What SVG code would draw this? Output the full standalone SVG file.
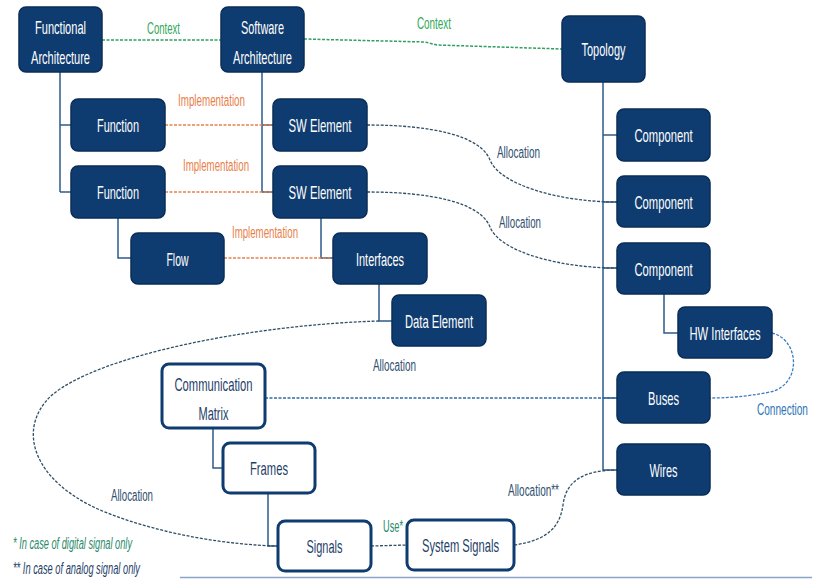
<svg xmlns="http://www.w3.org/2000/svg" width="816" height="579" viewBox="0 0 816 579">
  <style>
    .node rect { fill: #0f3c70; stroke: #0a2d57; stroke-width: 1.5; }
    .node text { fill: #ffffff; font-family: "Liberation Sans", Arial, sans-serif; font-size: 19px; text-anchor: middle; }
    .wnode rect { fill: #ffffff; stroke: #0f3c70; stroke-width: 3; }
    .wnode text { fill: #1f3f6a; font-family: "Liberation Sans", Arial, sans-serif; font-size: 19px; text-anchor: middle; }
    .tree { fill: none; stroke: #2f5b8c; stroke-width: 1.5; }
    .ctx { fill: none; stroke: #2fa060; stroke-width: 1.5; stroke-dasharray: 3 1.5; }
    .impl { fill: none; stroke: #e8804a; stroke-width: 1.5; stroke-dasharray: 3 1.5; }
    .alloc { fill: none; stroke: #2f4f66; stroke-width: 1.3; stroke-dasharray: 3 1.5; }
    .bus { fill: none; stroke: #2e6aa8; stroke-width: 1.5; stroke-dasharray: 3 1.5; }
    .conn { fill: none; stroke: #3a7bbf; stroke-width: 1.3; stroke-dasharray: 3 1.5; }
    .lbl { font-family: "Liberation Sans", Arial, sans-serif; font-size: 16px; }
    .green { fill: #2fa85a; }
    .orange { fill: #e8804a; }
    .slate { fill: #2f4f70; }
    .blue { fill: #2e75b6; }
    .note { font-family: "Liberation Sans", Arial, sans-serif; font-size: 16px; font-style: italic; }
  </style>

  <!-- connectors -->
  <g id="connectors">
    <!-- hierarchy lines -->
    <path class="tree" d="M60,72 V192 M60,125 H71 M60,192 H71"/>
    <path class="tree" d="M262,72 V192 M262,125 H273 M262,192 H273"/>
    <path class="tree" d="M118,218 V258 H131"/>
    <path class="tree" d="M321,218 V258 H333"/>
    <path class="tree" d="M379,284 V321 H392"/>
    <path class="tree" d="M603,82 V470 M603,135 H617 M603,202 H617 M603,268 H617 M603,398 H617 M603,470 H617"/>
    <path class="tree" d="M664,294 V333 H678"/>
    <path class="tree" d="M213,428 V468 H223"/>
    <path class="tree" d="M268,493 V546 H278"/>

    <!-- context -->
    <path class="ctx" d="M102,40 H221"/>
    <path class="ctx" d="M304,39 L425,42 L437,45 L562,49"/>

    <!-- implementation -->
    <path class="impl" d="M165,125 H273"/>
    <path class="impl" d="M165,192 H273"/>
    <path class="impl" d="M224,258 H333"/>

    <!-- allocation -->
    <path class="alloc" d="M367,125 C430,125 480,135 490,160 C500,185 560,202 617,202"/>
    <path class="alloc" d="M367,192 C430,192 480,202 490,227 C500,252 560,268 617,268"/>
    <path class="alloc" d="M379,321 C250,325 100,355 52,395 C16,428 32,480 100,510 C160,535 230,545 278,546"/>
    <path class="alloc" d="M371,546 L407,545"/>
    <path class="alloc" d="M514,545 C550,540 560,525 563,505 C566,480 585,470 617,470"/>

    <!-- bus / connection -->
    <path class="bus" d="M265,398 H617"/>
    <path class="conn" d="M772,333 C800,340 802,385 770,392 C745,397 725,398 710,398"/>
  </g>

  <!-- connector labels -->
  <g id="labels">
    <text class="lbl green" x="147" y="34" textLength="33" lengthAdjust="spacingAndGlyphs">Context</text>
    <text class="lbl green" x="417" y="29" textLength="34" lengthAdjust="spacingAndGlyphs">Context</text>
    <text class="lbl orange" x="178" y="106" textLength="67" lengthAdjust="spacingAndGlyphs">Implementation</text>
    <text class="lbl orange" x="183" y="171" textLength="66" lengthAdjust="spacingAndGlyphs">Implementation</text>
    <text class="lbl orange" x="232" y="238" textLength="66" lengthAdjust="spacingAndGlyphs">Implementation</text>
    <text class="lbl slate" x="497" y="158" textLength="43" lengthAdjust="spacingAndGlyphs">Allocation</text>
    <text class="lbl slate" x="499" y="228" textLength="42" lengthAdjust="spacingAndGlyphs">Allocation</text>
    <text class="lbl slate" x="373" y="371" textLength="43" lengthAdjust="spacingAndGlyphs">Allocation</text>
    <text class="lbl slate" x="111" y="501" textLength="42" lengthAdjust="spacingAndGlyphs">Allocation</text>
    <text class="lbl slate" x="508" y="496" textLength="51" lengthAdjust="spacingAndGlyphs">Allocation**</text>
    <text class="lbl" fill="#2a8a6a" x="383" y="532" textLength="20" lengthAdjust="spacingAndGlyphs">Use*</text>
    <g transform="translate(757,415) scale(0.63,1)">
      <text class="lbl blue" x="0" y="0">Connection</text>
    </g>
  </g>

  <!-- functional side -->
  <g id="functional-architecture" class="node">
    <rect x="19" y="7" width="83" height="65" rx="7"/>
    <text x="60.5" y="34" textLength="51" lengthAdjust="spacingAndGlyphs">Functional</text>
    <text x="60.5" y="64" textLength="59" lengthAdjust="spacingAndGlyphs">Architecture</text>
  </g>
  <g id="function-1" class="node">
    <rect x="71" y="99" width="94" height="52" rx="7"/>
    <text x="118" y="132" textLength="42" lengthAdjust="spacingAndGlyphs">Function</text>
  </g>
  <g id="function-2" class="node">
    <rect x="71" y="166" width="94" height="52" rx="7"/>
    <text x="118" y="199" textLength="42" lengthAdjust="spacingAndGlyphs">Function</text>
  </g>
  <g id="flow" class="node">
    <rect x="131" y="233" width="93" height="51" rx="7"/>
    <text x="177.5" y="266" textLength="22" lengthAdjust="spacingAndGlyphs">Flow</text>
  </g>

  <!-- software side -->
  <g id="software-architecture" class="node">
    <rect x="221" y="7" width="83" height="65" rx="7"/>
    <text x="262.5" y="34" textLength="43" lengthAdjust="spacingAndGlyphs">Software</text>
    <text x="262.5" y="64" textLength="59" lengthAdjust="spacingAndGlyphs">Architecture</text>
  </g>
  <g id="sw-element-1" class="node">
    <rect x="273" y="99" width="94" height="52" rx="7"/>
    <text x="320" y="132" textLength="63" lengthAdjust="spacingAndGlyphs">SW Element</text>
  </g>
  <g id="sw-element-2" class="node">
    <rect x="273" y="166" width="94" height="52" rx="7"/>
    <text x="320" y="199" textLength="63" lengthAdjust="spacingAndGlyphs">SW Element</text>
  </g>
  <g id="interfaces" class="node">
    <rect x="333" y="233" width="94" height="51" rx="7"/>
    <text x="380" y="266" textLength="48" lengthAdjust="spacingAndGlyphs">Interfaces</text>
  </g>
  <g id="data-element" class="node">
    <rect x="392" y="295" width="94" height="51" rx="7"/>
    <text x="439" y="328" textLength="68" lengthAdjust="spacingAndGlyphs">Data Element</text>
  </g>

  <!-- topology side -->
  <g id="topology" class="node">
    <rect x="562" y="16" width="83" height="66" rx="7"/>
    <text x="603.5" y="56" textLength="44" lengthAdjust="spacingAndGlyphs">Topology</text>
  </g>
  <g id="component-1" class="node">
    <rect x="617" y="109" width="93" height="52" rx="7"/>
    <text x="663.5" y="142" textLength="58" lengthAdjust="spacingAndGlyphs">Component</text>
  </g>
  <g id="component-2" class="node">
    <rect x="617" y="176" width="93" height="51" rx="7"/>
    <text x="663.5" y="209" textLength="58" lengthAdjust="spacingAndGlyphs">Component</text>
  </g>
  <g id="component-3" class="node">
    <rect x="617" y="243" width="93" height="51" rx="7"/>
    <text x="663.5" y="276" textLength="58" lengthAdjust="spacingAndGlyphs">Component</text>
  </g>
  <g id="hw-interfaces" class="node">
    <rect x="678" y="307" width="94" height="51" rx="7"/>
    <text x="725" y="340" textLength="71" lengthAdjust="spacingAndGlyphs">HW Interfaces</text>
  </g>
  <g id="buses" class="node">
    <rect x="617" y="372" width="93" height="51" rx="7"/>
    <text x="663.5" y="405" textLength="31" lengthAdjust="spacingAndGlyphs">Buses</text>
  </g>
  <g id="wires" class="node">
    <rect x="617" y="444" width="93" height="51" rx="7"/>
    <text x="663.5" y="477" textLength="28" lengthAdjust="spacingAndGlyphs">Wires</text>
  </g>

  <!-- communication side -->
  <g id="communication-matrix" class="wnode">
    <rect x="162" y="364" width="103" height="64" rx="7"/>
    <text x="213.5" y="391" textLength="78" lengthAdjust="spacingAndGlyphs">Communication</text>
    <text x="213.5" y="420" textLength="30" lengthAdjust="spacingAndGlyphs">Matrix</text>
  </g>
  <g id="frames" class="wnode">
    <rect x="223" y="443" width="92" height="50" rx="7"/>
    <text x="269" y="475" textLength="38" lengthAdjust="spacingAndGlyphs">Frames</text>
  </g>
  <g id="signals" class="wnode">
    <rect x="278" y="521" width="93" height="50" rx="7"/>
    <text x="324.5" y="553" textLength="36" lengthAdjust="spacingAndGlyphs">Signals</text>
  </g>
  <g id="system-signals" class="wnode">
    <rect x="407" y="520" width="107" height="50" rx="7"/>
    <text x="460.5" y="552" textLength="77" lengthAdjust="spacingAndGlyphs">System Signals</text>
  </g>

  <!-- footnotes -->
  <g id="notes">
    <text class="note" fill="#2a8a6a" x="13" y="549" textLength="119" lengthAdjust="spacingAndGlyphs">* In case of digital signal only</text>
    <text class="note" fill="#1f3f6a" x="13" y="574" textLength="127" lengthAdjust="spacingAndGlyphs">** In case of analog signal only</text>
  </g>

  <!-- bottom rule -->
  <line x1="180" y1="577.5" x2="812" y2="577.5" stroke="#8aa5c8" stroke-width="1.5"/>
</svg>
